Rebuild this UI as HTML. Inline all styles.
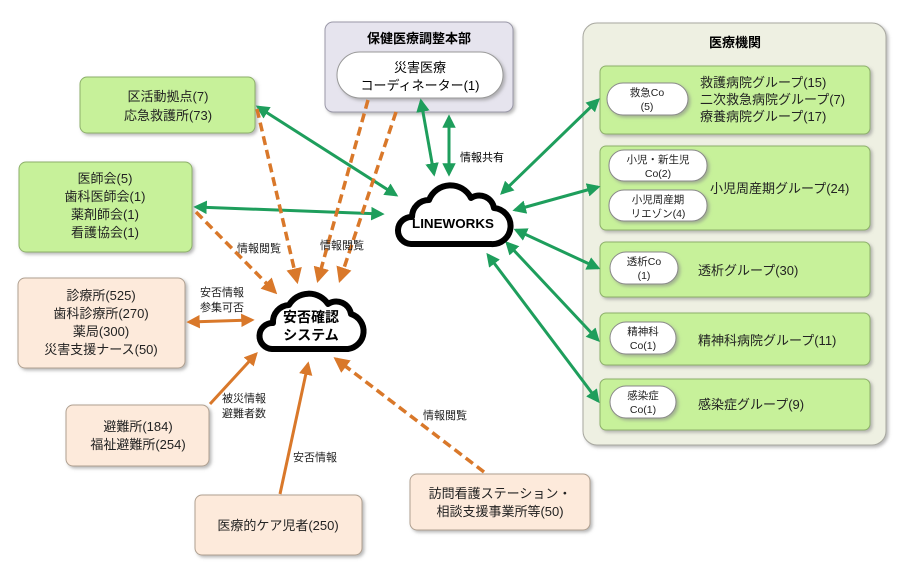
<!DOCTYPE html>
<html><head><meta charset="utf-8"><style>
html,body{margin:0;padding:0;background:#fff;}
svg{display:block;font-family:"Liberation Sans","Noto Sans CJK JP",sans-serif;}
</style></head><body>
<svg width="908" height="582" viewBox="0 0 908 582" xmlns="http://www.w3.org/2000/svg">
<defs>
<marker id="ag" viewBox="0 0 10 10" refX="8" refY="5" markerWidth="4.5" markerHeight="4.5" orient="auto-start-reverse"><path d="M0 0L10 5L0 10z" fill="#1e9e5c"/></marker>
<marker id="ao" viewBox="0 0 10 10" refX="8" refY="5" markerWidth="4.5" markerHeight="4.5" orient="auto-start-reverse"><path d="M0 0L10 5L0 10z" fill="#d9782a"/></marker>
<filter id="sh" x="-10%" y="-10%" width="130%" height="130%"><feDropShadow dx="2" dy="2" stdDeviation="1.5" flood-color="#888" flood-opacity="0.6"/></filter>
</defs>

<rect x="583" y="23" width="303" height="422" rx="14" fill="#eef0e2" stroke="#a8a8a0" filter="url(#sh)"/>
<text x="735" y="47" font-size="13" font-weight="bold" text-anchor="middle">医療機関</text>
<rect x="325" y="22" width="188" height="90" rx="8" fill="#e6e4ee" stroke="#9a98a8" filter="url(#sh)"/>
<text x="419" y="43" font-size="13" font-weight="bold" text-anchor="middle">保健医療調整本部</text>
<rect x="337" y="52" width="166" height="46" rx="23" fill="#fff" stroke="#999" filter="url(#sh)"/>
<text x="420" y="72" font-size="13" text-anchor="middle">災害医療</text>
<text x="420" y="90" font-size="13" text-anchor="middle">コーディネーター(1)</text>

<g fill="#c7f19a" stroke="#8db06a" filter="url(#sh)">
<rect x="80" y="77" width="175" height="56" rx="7"/>
<rect x="19" y="162" width="173" height="90" rx="7"/>
<rect x="600" y="66" width="270" height="68" rx="6"/>
<rect x="600" y="146" width="270" height="84" rx="6"/>
<rect x="600" y="242" width="270" height="55" rx="6"/>
<rect x="600" y="313" width="270" height="52" rx="6"/>
<rect x="600" y="379" width="270" height="51" rx="6"/>
</g>
<g fill="#fdeadb" stroke="#b0a090" filter="url(#sh)">
<rect x="18" y="278" width="167" height="90" rx="7"/>
<rect x="66" y="405" width="143" height="61" rx="7"/>
<rect x="195" y="495" width="167" height="60" rx="7"/>
<rect x="410" y="474" width="180" height="56" rx="7"/>
</g>
<g fill="#fff" stroke="#888" filter="url(#sh)">
<rect x="607" y="83" width="81" height="32" rx="16"/>
<rect x="609" y="150" width="98" height="31" rx="15"/>
<rect x="609" y="190" width="98" height="31" rx="15"/>
<rect x="610" y="252" width="68" height="32" rx="16"/>
<rect x="610" y="322" width="66" height="32" rx="16"/>
<rect x="610" y="386" width="66" height="32" rx="16"/>
</g>

<g font-size="13" text-anchor="middle" fill="#222">
<text x="168" y="101">区活動拠点(7)</text><text x="168" y="120">応急救護所(73)</text>
<text x="105" y="183">医師会(5)</text><text x="105" y="201">歯科医師会(1)</text><text x="105" y="219">薬剤師会(1)</text><text x="105" y="237">看護協会(1)</text>
<text x="101" y="300">診療所(525)</text><text x="101" y="318">歯科診療所(270)</text><text x="101" y="336">薬局(300)</text><text x="101" y="354">災害支援ナース(50)</text>
<text x="138" y="431">避難所(184)</text><text x="138" y="449">福祉避難所(254)</text>
<text x="278" y="530">医療的ケア児者(250)</text>
<text x="500" y="498">訪問看護ステーション・</text><text x="500" y="516">相談支援事業所等(50)</text>
</g>
<g font-size="13" fill="#222">
<text x="700" y="87">救護病院グループ(15)</text><text x="700" y="104">二次救急病院グループ(7)</text><text x="700" y="121">療養病院グループ(17)</text>
<text x="710" y="193">小児周産期グループ(24)</text>
<text x="698" y="275">透析グループ(30)</text>
<text x="698" y="345">精神科病院グループ(11)</text>
<text x="698" y="409">感染症グループ(9)</text>
</g>
<g font-size="10.5" text-anchor="middle" fill="#222">
<text x="647" y="96">救急Co</text><text x="647" y="110">(5)</text>
<text x="658" y="163">小児・新生児</text><text x="658" y="177">Co(2)</text>
<text x="658" y="203">小児周産期</text><text x="658" y="217">リエゾン(4)</text>
<text x="644" y="265">透析Co</text><text x="644" y="279">(1)</text>
<text x="643" y="335">精神科</text><text x="643" y="349">Co(1)</text>
<text x="643" y="399">感染症</text><text x="643" y="413">Co(1)</text>
</g>

<g stroke="#1e9e5c" stroke-width="3" marker-start="url(#ag)" marker-end="url(#ag)">
<line x1="258" y1="107" x2="396" y2="195"/>
<line x1="196" y1="207" x2="382" y2="214"/>
<line x1="421" y1="101" x2="434" y2="174"/>
<line x1="449" y1="117" x2="449" y2="174"/>
<line x1="598" y1="100" x2="502" y2="193"/>
<line x1="598" y1="187" x2="515" y2="210"/>
<line x1="598" y1="268" x2="516" y2="230"/>
<line x1="598" y1="340" x2="507" y2="243"/>
<line x1="598" y1="401" x2="488" y2="255"/>
</g>
<text x="460" y="161" font-size="11">情報共有</text>

<g stroke="#d9782a" stroke-width="3">
<line x1="189" y1="322" x2="252" y2="320" marker-start="url(#ao)" marker-end="url(#ao)"/>
<line x1="210" y1="404" x2="256" y2="354" marker-end="url(#ao)"/>
<line x1="280" y1="494" x2="308" y2="364" marker-end="url(#ao)"/>
</g>
<g stroke="#d9782a" stroke-width="3.5" stroke-dasharray="9 5" marker-end="url(#ao)">
<line x1="257" y1="109" x2="297" y2="281"/>
<line x1="196" y1="212" x2="275" y2="292"/>
<line x1="368" y1="100" x2="318" y2="280"/>
<line x1="396" y1="112" x2="340" y2="280"/>
<line x1="484" y1="472" x2="336" y2="359"/>
</g>
<g font-size="11" fill="#222">
<text x="237" y="252">情報閲覧</text>
<text x="320" y="249">情報閲覧</text>
<text x="200" y="296">安否情報</text><text x="200" y="311">参集可否</text>
<text x="222" y="402">被災情報</text><text x="222" y="417">避難者数</text>
<text x="293" y="461">安否情報</text>
<text x="423" y="419">情報閲覧</text>
</g>

<g transform="translate(391,178)">
<path d="M20 66 H100 A18 18 0 0 0 103 30 A15 15 0 0 0 80 20 A23 23 0 0 0 38 22 A17 17 0 0 0 21 39 A13 13 0 0 0 20 66 Z" fill="#fff" stroke="#000" stroke-width="6" stroke-linejoin="round"/>
<text x="62" y="50" font-size="13" font-weight="bold" text-anchor="middle" textLength="82" lengthAdjust="spacingAndGlyphs">LINEWORKS</text>
</g>
<g transform="translate(252,283)">
<path d="M20 66 H96 A18 18 0 0 0 99 31 A15 15 0 0 0 76 21 A23 23 0 0 0 37 22 A17 17 0 0 0 21 40 A13 13 0 0 0 20 66 Z" fill="#fff" stroke="#000" stroke-width="6" stroke-linejoin="round"/>
<text x="59" y="39" font-size="14" font-weight="bold" text-anchor="middle">安否確認</text>
<text x="59" y="57" font-size="14" font-weight="bold" text-anchor="middle">システム</text>
</g>
</svg>
</body></html>
